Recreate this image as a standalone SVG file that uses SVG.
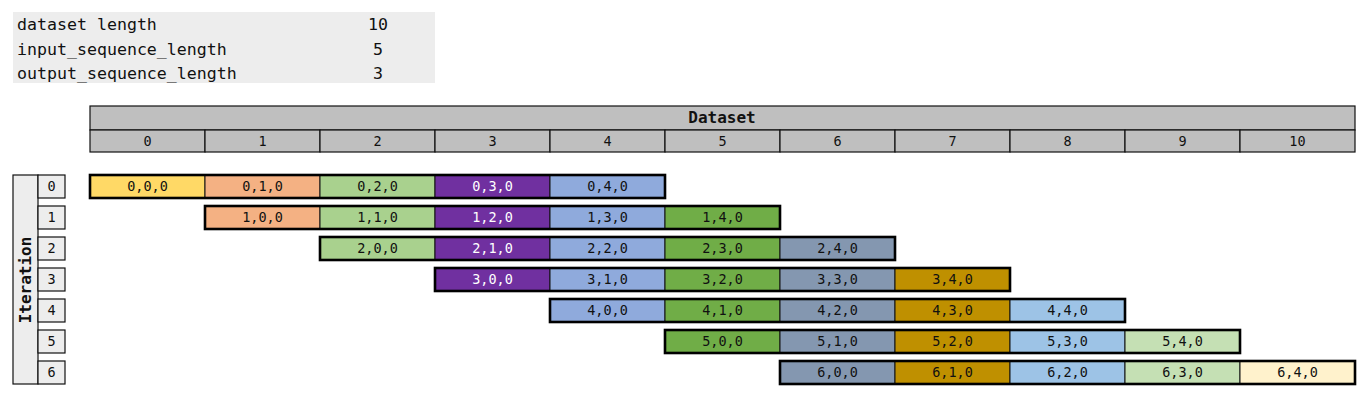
<svg xmlns="http://www.w3.org/2000/svg" width="1372" height="398" viewBox="0 0 1372 398">
<style>
text{font-family:"DejaVu Sans Mono","Liberation Mono",monospace;fill:#111}
.info{font-size:16.6px}
.c{font-size:13.5px;text-anchor:middle}
.b{font-weight:bold;font-size:16px;text-anchor:middle}
.hd{fill:#BFBFBF;stroke:#111;stroke-width:1.2}
.it{fill:#EDEDED;stroke:#111;stroke-width:1.2}
.cell{stroke:#111;stroke-width:1}
.frame{fill:none;stroke:#000;stroke-width:2.6}
.w{fill:#fff}
</style>
<rect width="1372" height="398" fill="#fff"/>
<g id="info">
<rect x="13" y="12" width="422" height="71" fill="#EDEDED"/>
<text class="info" x="17" y="30">dataset length</text>
<text class="info" x="17" y="55">input_sequence_length</text>
<text class="info" x="17" y="79">output_sequence_length</text>
<text class="info" x="378" y="30" text-anchor="middle">10</text>
<text class="info" x="378" y="55" text-anchor="middle">5</text>
<text class="info" x="378" y="79" text-anchor="middle">3</text>
</g>
<g id="dataset-header">
<rect class="hd" x="90" y="106" width="1265" height="24"/>
<text class="b" x="722" y="123">Dataset</text>
<rect class="hd" x="90" y="130" width="115" height="22"/><text class="c" x="147.5" y="146">0</text>
<rect class="hd" x="205" y="130" width="115" height="22"/><text class="c" x="262.5" y="146">1</text>
<rect class="hd" x="320" y="130" width="115" height="22"/><text class="c" x="377.5" y="146">2</text>
<rect class="hd" x="435" y="130" width="115" height="22"/><text class="c" x="492.5" y="146">3</text>
<rect class="hd" x="550" y="130" width="115" height="22"/><text class="c" x="607.5" y="146">4</text>
<rect class="hd" x="665" y="130" width="115" height="22"/><text class="c" x="722.5" y="146">5</text>
<rect class="hd" x="780" y="130" width="115" height="22"/><text class="c" x="837.5" y="146">6</text>
<rect class="hd" x="895" y="130" width="115" height="22"/><text class="c" x="952.5" y="146">7</text>
<rect class="hd" x="1010" y="130" width="115" height="22"/><text class="c" x="1067.5" y="146">8</text>
<rect class="hd" x="1125" y="130" width="115" height="22"/><text class="c" x="1182.5" y="146">9</text>
<rect class="hd" x="1240" y="130" width="115" height="22"/><text class="c" x="1297.5" y="146">10</text>
</g>
<g id="iteration-header">
<rect class="it" x="13" y="175" width="25" height="209"/>
<text class="b" transform="translate(31,280) rotate(-90)">Iteration</text>
<rect class="it" x="38" y="175" width="27" height="23"/><text class="c" x="51.5" y="191">0</text>
<rect class="it" x="38" y="206" width="27" height="23"/><text class="c" x="51.5" y="222">1</text>
<rect class="it" x="38" y="237" width="27" height="23"/><text class="c" x="51.5" y="253">2</text>
<rect class="it" x="38" y="268" width="27" height="23"/><text class="c" x="51.5" y="284">3</text>
<rect class="it" x="38" y="299" width="27" height="23"/><text class="c" x="51.5" y="315">4</text>
<rect class="it" x="38" y="330" width="27" height="23"/><text class="c" x="51.5" y="346">5</text>
<rect class="it" x="38" y="361" width="27" height="23"/><text class="c" x="51.5" y="377">6</text>
</g>
<g id="row0">
<rect class="cell" x="90" y="175" width="115" height="23" fill="#FFD966"/><text class="c" x="147.5" y="191">0,0,0</text>
<rect class="cell" x="205" y="175" width="115" height="23" fill="#F4B183"/><text class="c" x="262.5" y="191">0,1,0</text>
<rect class="cell" x="320" y="175" width="115" height="23" fill="#A9D18E"/><text class="c" x="377.5" y="191">0,2,0</text>
<rect class="cell" x="435" y="175" width="115" height="23" fill="#7030A0"/><text class="c w" x="492.5" y="191">0,3,0</text>
<rect class="cell" x="550" y="175" width="115" height="23" fill="#8FAADC"/><text class="c" x="607.5" y="191">0,4,0</text>
<rect class="frame" x="90" y="175" width="575" height="23"/>
</g>
<g id="row1">
<rect class="cell" x="205" y="206" width="115" height="23" fill="#F4B183"/><text class="c" x="262.5" y="222">1,0,0</text>
<rect class="cell" x="320" y="206" width="115" height="23" fill="#A9D18E"/><text class="c" x="377.5" y="222">1,1,0</text>
<rect class="cell" x="435" y="206" width="115" height="23" fill="#7030A0"/><text class="c w" x="492.5" y="222">1,2,0</text>
<rect class="cell" x="550" y="206" width="115" height="23" fill="#8FAADC"/><text class="c" x="607.5" y="222">1,3,0</text>
<rect class="cell" x="665" y="206" width="115" height="23" fill="#70AD47"/><text class="c" x="722.5" y="222">1,4,0</text>
<rect class="frame" x="205" y="206" width="575" height="23"/>
</g>
<g id="row2">
<rect class="cell" x="320" y="237" width="115" height="23" fill="#A9D18E"/><text class="c" x="377.5" y="253">2,0,0</text>
<rect class="cell" x="435" y="237" width="115" height="23" fill="#7030A0"/><text class="c w" x="492.5" y="253">2,1,0</text>
<rect class="cell" x="550" y="237" width="115" height="23" fill="#8FAADC"/><text class="c" x="607.5" y="253">2,2,0</text>
<rect class="cell" x="665" y="237" width="115" height="23" fill="#70AD47"/><text class="c" x="722.5" y="253">2,3,0</text>
<rect class="cell" x="780" y="237" width="115" height="23" fill="#8497B0"/><text class="c" x="837.5" y="253">2,4,0</text>
<rect class="frame" x="320" y="237" width="575" height="23"/>
</g>
<g id="row3">
<rect class="cell" x="435" y="268" width="115" height="23" fill="#7030A0"/><text class="c w" x="492.5" y="284">3,0,0</text>
<rect class="cell" x="550" y="268" width="115" height="23" fill="#8FAADC"/><text class="c" x="607.5" y="284">3,1,0</text>
<rect class="cell" x="665" y="268" width="115" height="23" fill="#70AD47"/><text class="c" x="722.5" y="284">3,2,0</text>
<rect class="cell" x="780" y="268" width="115" height="23" fill="#8497B0"/><text class="c" x="837.5" y="284">3,3,0</text>
<rect class="cell" x="895" y="268" width="115" height="23" fill="#BF9000"/><text class="c" x="952.5" y="284">3,4,0</text>
<rect class="frame" x="435" y="268" width="575" height="23"/>
</g>
<g id="row4">
<rect class="cell" x="550" y="299" width="115" height="23" fill="#8FAADC"/><text class="c" x="607.5" y="315">4,0,0</text>
<rect class="cell" x="665" y="299" width="115" height="23" fill="#70AD47"/><text class="c" x="722.5" y="315">4,1,0</text>
<rect class="cell" x="780" y="299" width="115" height="23" fill="#8497B0"/><text class="c" x="837.5" y="315">4,2,0</text>
<rect class="cell" x="895" y="299" width="115" height="23" fill="#BF9000"/><text class="c" x="952.5" y="315">4,3,0</text>
<rect class="cell" x="1010" y="299" width="115" height="23" fill="#9DC3E6"/><text class="c" x="1067.5" y="315">4,4,0</text>
<rect class="frame" x="550" y="299" width="575" height="23"/>
</g>
<g id="row5">
<rect class="cell" x="665" y="330" width="115" height="23" fill="#70AD47"/><text class="c" x="722.5" y="346">5,0,0</text>
<rect class="cell" x="780" y="330" width="115" height="23" fill="#8497B0"/><text class="c" x="837.5" y="346">5,1,0</text>
<rect class="cell" x="895" y="330" width="115" height="23" fill="#BF9000"/><text class="c" x="952.5" y="346">5,2,0</text>
<rect class="cell" x="1010" y="330" width="115" height="23" fill="#9DC3E6"/><text class="c" x="1067.5" y="346">5,3,0</text>
<rect class="cell" x="1125" y="330" width="115" height="23" fill="#C5E0B4"/><text class="c" x="1182.5" y="346">5,4,0</text>
<rect class="frame" x="665" y="330" width="575" height="23"/>
</g>
<g id="row6">
<rect class="cell" x="780" y="361" width="115" height="23" fill="#8497B0"/><text class="c" x="837.5" y="377">6,0,0</text>
<rect class="cell" x="895" y="361" width="115" height="23" fill="#BF9000"/><text class="c" x="952.5" y="377">6,1,0</text>
<rect class="cell" x="1010" y="361" width="115" height="23" fill="#9DC3E6"/><text class="c" x="1067.5" y="377">6,2,0</text>
<rect class="cell" x="1125" y="361" width="115" height="23" fill="#C5E0B4"/><text class="c" x="1182.5" y="377">6,3,0</text>
<rect class="cell" x="1240" y="361" width="115" height="23" fill="#FFF2CC"/><text class="c" x="1297.5" y="377">6,4,0</text>
<rect class="frame" x="780" y="361" width="575" height="23"/>
</g>
<g id="connectors"/>
</svg>
